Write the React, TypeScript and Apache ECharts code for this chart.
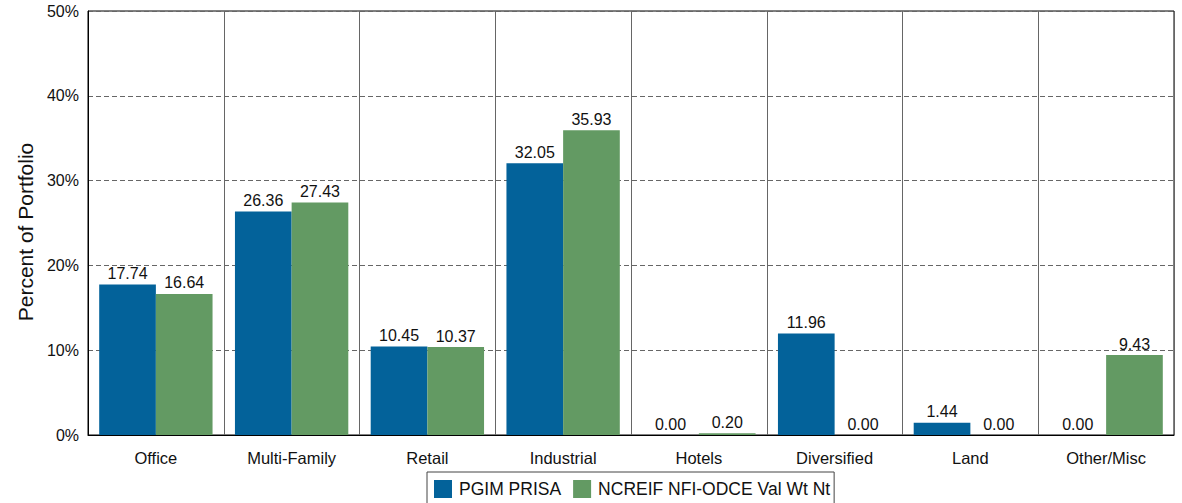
import React, { useEffect, useRef } from "react";
import * as echarts from "echarts";

// Property-type allocation, percent of portfolio
const categories = ["Office", "Multi-Family", "Retail", "Industrial", "Hotels", "Diversified", "Land", "Other/Misc"];
const prisaValues = [17.74, 26.36, 10.45, 32.05, 0.0, 11.96, 1.44, 0.0];
const odceValues = [16.64, 27.43, 10.37, 35.93, 0.2, 0.0, 0.0, 9.43];
const seriesNames = ["PGIM PRISA", "NCREIF NFI-ODCE Val Wt Nt"];
const yTicks = { min: 0, max: 50, interval: 10 };
const yTitle = "Percent of Portfolio";

const FONT = "'Liberation Sans', Arial, sans-serif";
const BLUE = "#03629a";
const GREEN = "#639a63";

export default function App() {
  const ref = useRef<HTMLDivElement>(null);

  useEffect(() => {
    document.body.style.margin = "0";
    const chart = echarts.init(ref.current!, null, { renderer: "svg" });
    const label = {
      show: true,
      position: "top" as const,
      distance: 3,
      color: "#111",
      fontFamily: FONT,
      fontSize: 16,
      formatter: (p: any) => Number(p.value).toFixed(2),
    };
    chart.setOption({
      animation: false,
      textStyle: { fontFamily: FONT },
      grid: {
        left: 88,
        right: 8,
        top: 11,
        height: 424,
        show: true,
        borderColor: "#000",
        borderWidth: 1,
        backgroundColor: "transparent",
      },
      graphic: [
        {
          type: "text",
          x: 25,
          y: 232,
          rotation: Math.PI / 2,
          style: {
            text: yTitle,
            fontFamily: FONT,
            fontSize: 21,
            fill: "#111",
            align: "center",
            verticalAlign: "middle",
          },
        },
      ],
      legend: {
        left: 427,
        top: 472,
        padding: [8, 4, 20, 7],
        itemWidth: 18,
        itemHeight: 18,
        itemGap: 12,
        borderColor: "#444",
        borderWidth: 1,
        icon: "rect",
        textStyle: { fontFamily: FONT, fontSize: 17.5, color: "#111", padding: [0, 0, 0, 2] },
        data: seriesNames,
      },
      xAxis: {
        type: "category",
        data: categories,
        axisLine: { show: true, lineStyle: { color: "#000", width: 1 } },
        axisTick: { show: false },
        axisLabel: { color: "#111", fontFamily: FONT, fontSize: 16.5, margin: 14 },
        splitLine: { show: true, lineStyle: { color: "#666", width: 1, type: "solid" } },
      },
      yAxis: {
        type: "value",
        min: yTicks.min,
        max: yTicks.max,
        interval: yTicks.interval,
        axisLine: { show: true, lineStyle: { color: "#000", width: 1 } },
        axisTick: { show: false },
        axisLabel: { color: "#111", fontFamily: FONT, fontSize: 16, margin: 9, formatter: "{value}%" },
        splitLine: { show: true, lineStyle: { color: "#666", width: 1, type: [5, 3] } },
      },
      series: [
        {
          name: seriesNames[0],
          type: "bar",
          data: prisaValues,
          itemStyle: { color: BLUE },
          barGap: "0%",
          barCategoryGap: "16.5%",
          label,
        },
        {
          name: seriesNames[1],
          type: "bar",
          data: odceValues,
          itemStyle: { color: GREEN },
          barGap: "0%",
          barCategoryGap: "16.5%",
          label,
        },
      ],
    });
    return () => chart.dispose();
  }, []);

  return <div ref={ref} style={{ width: 1182, height: 503 }} />;
}
